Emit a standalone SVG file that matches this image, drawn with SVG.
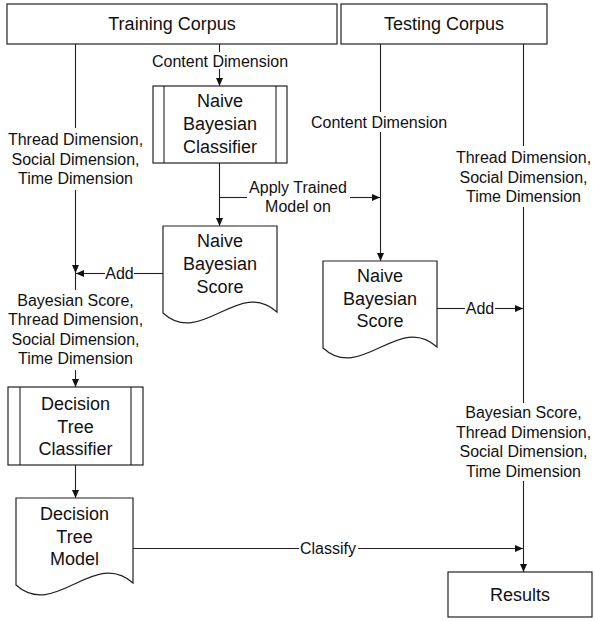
<svg xmlns="http://www.w3.org/2000/svg" width="595" height="621" viewBox="0 0 595 621">
<style>
.box{fill:#fff;stroke:#222;stroke-width:1.2}
.ln{fill:none;stroke:#222;stroke-width:1.1}
.arr{fill:none;stroke:#222;stroke-width:1.1;marker-end:url(#ah)}
.t{font-family:"Liberation Sans",Arial,sans-serif;font-size:18px;fill:#111;text-anchor:middle}
.l{font-family:"Liberation Sans",Arial,sans-serif;font-size:16px;fill:#111;text-anchor:middle}
</style>
<defs>
<marker id="ah" markerUnits="userSpaceOnUse" markerWidth="9" markerHeight="8" refX="8" refY="3.5" orient="auto">
<path d="M0,0 L8,3.5 L0,7 z" fill="#111"/>
</marker>
</defs>
<rect width="595" height="621" fill="#fff"/>

<g id="connectors">
<!-- training content dimension -->
<path class="ln" d="M219.5,44 V52"/>
<path class="arr" d="M219.5,69 V86"/>
<text class="l" x="220" y="67">Content Dimension</text>
<!-- training thread/social/time -->
<path class="ln" d="M75.5,44 V128"/>
<path class="arr" d="M75.5,190 V273"/>
<text class="l" x="75.5" y="145">Thread Dimension,</text>
<text class="l" x="75.5" y="164.5">Social Dimension,</text>
<text class="l" x="75.5" y="184">Time Dimension</text>
<!-- classifier to NB score -->
<path class="arr" d="M219.5,163 V226"/>
<!-- apply trained model -->
<path class="ln" d="M219.5,197.5 H247"/>
<path class="arr" d="M350,197.5 H380"/>
<text class="l" x="298" y="193">Apply Trained</text>
<text class="l" x="298" y="212">Model on</text>
<!-- left add -->
<path class="ln" d="M163,273.5 H134"/>
<path class="arr" d="M105,273.5 H76"/>
<text class="l" x="119.5" y="279">Add</text>
<!-- left combined -->
<path class="ln" d="M75.5,273 V290"/>
<text class="l" x="75.5" y="305.5">Bayesian Score,</text>
<text class="l" x="75.5" y="325">Thread Dimension,</text>
<text class="l" x="75.5" y="344.5">Social Dimension,</text>
<text class="l" x="75.5" y="364">Time Dimension</text>
<path class="arr" d="M75.5,370 V387"/>
<!-- DT classifier to model -->
<path class="arr" d="M75.5,465 V498"/>
<!-- classify -->
<path class="ln" d="M133,548.5 H299"/>
<path class="arr" d="M358,548.5 H523"/>
<text class="l" x="328" y="554">Classify</text>
<!-- testing content -->
<path class="ln" d="M380.5,44 V112"/>
<text class="l" x="379" y="128">Content Dimension</text>
<path class="arr" d="M380.5,132 V261"/>
<!-- testing thread/social/time -->
<path class="ln" d="M523.5,44 V146"/>
<text class="l" x="523.5" y="163">Thread Dimension,</text>
<text class="l" x="523.5" y="182.5">Social Dimension,</text>
<text class="l" x="523.5" y="202">Time Dimension</text>
<path class="ln" d="M523.5,207 V403"/>
<!-- right add -->
<path class="ln" d="M437,308.5 H465"/>
<path class="arr" d="M495,308.5 H523"/>
<text class="l" x="480" y="314">Add</text>
<!-- right combined -->
<text class="l" x="523.5" y="418">Bayesian Score,</text>
<text class="l" x="523.5" y="437.5">Thread Dimension,</text>
<text class="l" x="523.5" y="457">Social Dimension,</text>
<text class="l" x="523.5" y="476.5">Time Dimension</text>
<path class="arr" d="M523.5,481 V572"/>
</g>

<g id="training-corpus">
<rect class="box" x="7" y="4" width="330" height="40"/>
<text class="t" x="172" y="30">Training Corpus</text>
</g>
<g id="testing-corpus">
<rect class="box" x="341" y="4" width="206" height="40"/>
<text class="t" x="444" y="30">Testing Corpus</text>
</g>
<g id="nb-classifier">
<rect class="box" x="153" y="86" width="134" height="77"/>
<path class="ln" d="M164,86 V163 M276,86 V163"/>
<text class="t" x="220" y="107">Naive</text>
<text class="t" x="220" y="130">Bayesian</text>
<text class="t" x="220" y="153">Classifier</text>
</g>
<g id="nb-score-train">
<path class="box" d="M163,226 H277 V312 C239,277 201,348 163,313 Z"/>
<text class="t" x="220" y="247">Naive</text>
<text class="t" x="220" y="270">Bayesian</text>
<text class="t" x="220" y="293">Score</text>
</g>
<g id="nb-score-test">
<path class="box" d="M323,261 H437 V347 C399,312 361,383 323,348 Z"/>
<text class="t" x="380" y="282">Naive</text>
<text class="t" x="380" y="305">Bayesian</text>
<text class="t" x="380" y="327">Score</text>
</g>
<g id="dt-classifier">
<rect class="box" x="8" y="387" width="135" height="78"/>
<path class="ln" d="M20,387 V465 M131,387 V465"/>
<text class="t" x="75.5" y="410">Decision</text>
<text class="t" x="75.5" y="432.5">Tree</text>
<text class="t" x="75.5" y="455">Classifier</text>
</g>
<g id="dt-model">
<path class="box" d="M16,498 H133 V583 C94,548 55,620 16,585 Z"/>
<text class="t" x="74.5" y="520">Decision</text>
<text class="t" x="74.5" y="543">Tree</text>
<text class="t" x="74.5" y="565">Model</text>
</g>
<g id="results">
<rect class="box" x="448" y="572" width="144" height="45"/>
<text class="t" x="520" y="601">Results</text>
</g>
</svg>
